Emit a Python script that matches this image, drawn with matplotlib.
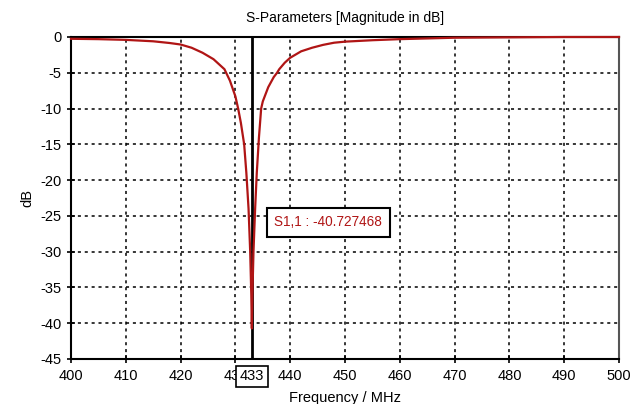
import matplotlib
matplotlib.use("Agg")
import matplotlib.pyplot as plt

# S11 magnitude of the antenna, read in MHz / dB
freq_mhz = [400, 405, 410, 415, 418, 420, 422, 424, 426, 427, 428, 429, 430,
            430.5, 431, 431.6, 432, 432.4, 432.7, 432.9, 433.0, 433.1, 433.3,
            433.6, 433.9, 434.3, 434.7, 435, 436, 437, 437.6, 438, 439, 440,
            442, 444, 446, 448, 450, 455, 460, 465, 470, 480, 490, 500]
s11_db = [-0.25, -0.3, -0.4, -0.6, -0.84, -1.05, -1.5, -2.2, -3.1, -3.8, -4.5,
          -6.1, -8.3, -10.0, -12.0, -15.0, -19.0, -24.0, -30.0, -36.0, -40.727468,
          -36.0, -30.0, -24.0, -19.0, -14.0, -10.0, -9.0, -7.0, -5.6, -5.0, -4.5,
          -3.6, -2.9, -2.0, -1.5, -1.1, -0.8, -0.65, -0.45, -0.3, -0.2, -0.1,
          -0.05, 0.0, 0.0]

marker_freq = 433
marker_db = -40.727468
x_ticks = list(range(400, 501, 10))
y_ticks = list(range(0, -46, -5))

plt.rcParams["font.family"] = ["Liberation Sans", "DejaVu Sans"]
plt.rcParams["font.size"] = 10
plt.rcParams["axes.unicode_minus"] = False

fig = plt.figure(figsize=(6.39, 4.04), dpi=100)
ax = fig.add_axes([71 / 639, 1 - 359 / 404, (619 - 71) / 639, (359 - 37) / 404])

ax.set_xlim(400, 500)
ax.set_ylim(-45, 0)
ax.set_xticks(x_ticks)
ax.set_yticks(y_ticks)
ax.grid(True, color="black", linestyle=(0, (2, 2.5)), linewidth=1.1)
ax.tick_params(direction="inout", length=6, width=1.2, labelsize=10.5, pad=4)

for side in ["left", "bottom", "top"]:
    ax.spines[side].set_linewidth(1.5)
ax.spines["right"].set_linewidth(1.5)
ax.spines["right"].set_color("#555555")

# marker line at the resonance
ax.axvline(marker_freq, color="black", linewidth=2, zorder=4)
ax.plot(freq_mhz, s11_db, color="#b01515", linewidth=1.6, zorder=5, clip_on=False)

ax.set_title("S-Parameters [Magnitude in dB]", fontsize=10, pad=11)
ax.set_xlabel("Frequency / MHz", fontsize=10.5, labelpad=6)
ax.set_ylabel("dB", fontsize=10.5, labelpad=4)

# marker readout
ax.text(marker_freq + 4.1, -25.9, f"S1,1 : {marker_db}", color="#b01515", fontsize=9.8,
        va="center", ha="left", zorder=6,
        bbox=dict(boxstyle="square,pad=0.55", facecolor="white", edgecolor="black", linewidth=1.5))

# marker frequency on the x axis
ax.annotate(str(marker_freq), xy=(marker_freq, -45), xytext=(0, -12.5), textcoords="offset points",
            ha="center", va="center", fontsize=10.5, annotation_clip=False, zorder=6,
            bbox=dict(boxstyle="square,pad=0.25", facecolor="white", edgecolor="black", linewidth=1.2))

fig.savefig("out.png", dpi=100)
